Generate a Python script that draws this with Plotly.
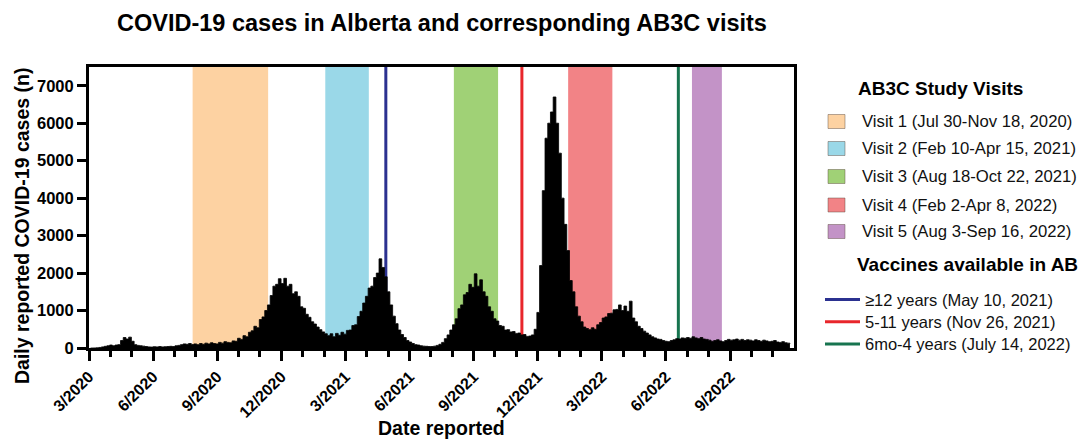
import plotly.graph_objects as go
import pandas as pd

# ---------------- data ----------------
# Daily reported COVID-19 cases in Alberta, read every 4 days starting 2020-03-02
case_start = "2020-03-02"
case_step_days = 4
daily_cases = [
    0, 2, 5, 15, 30, 45, 60, 80,                       # Mar 2020
    60, 80, 90, 200, 280, 240, 290, 180, 90,           # Apr 2020
    70, 60, 50, 40, 30, 25, 35, 30, 40, 30, 35, 40, 45, 40,   # May-Jun 2020
    60, 70, 90, 110, 100, 120, 95,                     # Jul 2020
    110, 90, 120, 100, 130, 110, 140, 120, 110, 150, 130, 170, 150, 140,
    190, 180, 260, 230, 330, 300, 420, 460, 580, 540, 760, 830, 1000, 1150,
    1400, 1650, 1700, 1850, 1720, 1860, 1650, 1700, 1450, 1500, 1380, 1100,
    1060, 900, 820, 700, 640, 560, 490, 430, 380,
    330, 380, 300, 390, 340, 420, 370, 470, 480, 600, 620, 840, 980, 1200,
    1380, 1600, 1650, 1880, 2000, 2380, 2150, 1900, 1500, 1150, 850, 650,
    480, 360, 280, 200, 160, 120, 90, 80, 60, 50, 45, 40, 40, 50, 70, 100,
    150, 250, 350, 480, 620, 780, 1050, 1150, 1420, 1480, 1700, 1620, 1980,
    1650, 1820, 1500, 1380, 1100, 980, 780, 720, 600, 580, 480, 490, 430,
    440, 390, 400, 350, 360, 310, 320, 350, 500, 950, 2200, 4200, 5600, 6000,
    6300, 6700, 6000, 5200, 4000, 3300, 2600, 1800, 1500, 1100, 850, 700,
    560, 520, 490, 540, 500, 620, 680, 800, 830, 920, 930, 1020, 1030, 1150,
    1000, 1120, 980, 1250, 800, 700, 580, 520, 450, 400, 350, 300, 270, 240,
    230, 200, 180, 170, 200, 220, 250, 240, 270, 260, 280, 260, 300, 270,
    250, 280, 240, 230, 210, 180, 200, 220, 190, 170, 200, 230, 210, 220,
    240, 210, 230, 200, 220, 210, 190, 220, 200, 180, 210, 190, 170, 180,
    200, 160, 150, 170, 140, 130, 110,
]

visit_labels = [
    "Visit 1 (Jul 30-Nov 18, 2020)",
    "Visit 2 (Feb 10-Apr 15, 2021)",
    "Visit 3 (Aug 18-Oct 22, 2021)",
    "Visit 4 (Feb 2-Apr 8, 2022)",
    "Visit 5 (Aug 3-Sep 16, 2022)",
]
visit_starts = ["2020-07-30", "2021-02-10", "2021-08-18", "2022-02-02", "2022-08-03"]
visit_ends = ["2020-11-18", "2021-04-15", "2021-10-22", "2022-04-08", "2022-09-16"]
visit_colors = ["#FDD2A2", "#9AD8E8", "#A0D176", "#F28386", "#C393C7"]

vaccine_labels = [
    "≥12 years (May 10, 2021)",
    "5-11 years (Nov 26, 2021)",
    "6mo-4 years (July 14, 2022)",
]
vaccine_dates = ["2021-05-10", "2021-11-26", "2022-07-14"]
vaccine_colors = ["#2B3190", "#E8262B", "#17744F"]

tick_labels = ["3/2020", "6/2020", "9/2020", "12/2020", "3/2021", "6/2021",
               "9/2021", "12/2021", "3/2022", "6/2022", "9/2022"]
y_ticks = [0, 1000, 2000, 3000, 4000, 5000, 6000, 7000]

# ---------------- layout geometry ----------------
W, H = 1081, 440
L, R, T, B = 89, 794, 67, 348          # plot area in pixels
FONT = "Arial, Liberation Sans, sans-serif"

def px_x(px):
    return (px - L) / (R - L)

def px_y(py):
    return (B - py) / (B - T)

case_dates = pd.date_range(case_start, periods=len(daily_cases),
                           freq=f"{case_step_days}D")

# tick placement as in the reference (equally spaced)
t0 = pd.Timestamp("2020-02-28 16:00")
step = pd.Timedelta(days=94.23)
tick_vals = [(t0 + k * step).strftime("%Y-%m-%d %H:%M") for k in range(len(tick_labels))]
minor_vals = [(t0 + k * step / 3).strftime("%Y-%m-%d %H:%M")
              for k in range(3 * len(tick_labels) + 3) if k % 3]
x_end = "2022-12-31"

fig = go.Figure()
fig.add_trace(go.Scatter(
    x=case_dates, y=daily_cases, mode="lines",
    line=dict(color="black", width=0.8, shape="hv"),
    fill="tozeroy", fillcolor="black", showlegend=False, hoverinfo="x+y",
))

shapes = []
for s, e, c in zip(visit_starts, visit_ends, visit_colors):
    shapes.append(dict(type="rect", xref="x", yref="paper", x0=s, x1=e, y0=0, y1=1,
                       fillcolor=c, line=dict(width=0), layer="below"))
for d, c in zip(vaccine_dates, vaccine_colors):
    shapes.append(dict(type="line", xref="x", yref="paper", x0=d, x1=d, y0=0, y1=1,
                       line=dict(color=c, width=3), layer="below"))

annotations = []
# legend: visits
annotations.append(dict(text="<b>AB3C Study Visits</b>", xref="paper", yref="paper",
                        x=px_x(856), y=px_y(88), xanchor="left", yanchor="middle",
                        showarrow=False, font=dict(size=19, color="black", family=FONT)))
row_y = [121.5, 148.5, 176.5, 205, 231.5]
for lab, c, ry in zip(visit_labels, visit_colors, row_y):
    shapes.append(dict(type="rect", xref="paper", yref="paper",
                       x0=px_x(828), x1=px_x(845), y0=px_y(ry + 7), y1=px_y(ry - 7),
                       fillcolor=c, line=dict(color="rgba(90,70,60,0.45)", width=1)))
    annotations.append(dict(text=lab, xref="paper", yref="paper",
                            x=px_x(860), y=px_y(ry), xanchor="left", yanchor="middle",
                            showarrow=False, font=dict(size=16.7, color="#111", family=FONT)))
# legend: vaccines
annotations.append(dict(text="<b>Vaccines available in AB</b>", xref="paper", yref="paper",
                        x=px_x(855), y=px_y(264), xanchor="left", yanchor="middle",
                        showarrow=False, font=dict(size=19, color="black", family=FONT)))
vac_y = [299.5, 321.7, 344]
for lab, c, ry in zip(vaccine_labels, vaccine_colors, vac_y):
    shapes.append(dict(type="line", xref="paper", yref="paper",
                       x0=px_x(825), x1=px_x(860), y0=px_y(ry), y1=px_y(ry),
                       line=dict(color=c, width=3)))
    annotations.append(dict(text=lab, xref="paper", yref="paper",
                            x=px_x(863), y=px_y(ry), xanchor="left", yanchor="middle",
                            showarrow=False, font=dict(size=16.5, color="#111", family=FONT)))
# axis titles
annotations.append(dict(text="<b>Date reported</b>", xref="paper", yref="paper",
                        x=px_x(441.5), y=px_y(428), xanchor="center", yanchor="middle",
                        showarrow=False, font=dict(size=19.5, color="black", family=FONT)))
annotations.append(dict(text="<b>Daily reported COVID-19 cases (n)</b>", xref="paper",
                        yref="paper", x=px_x(22), y=px_y(226), xanchor="center",
                        yanchor="middle", textangle=-90, showarrow=False,
                        font=dict(size=19.5, color="black", family=FONT)))

fig.update_layout(
    width=W, height=H,
    margin=dict(l=L, r=W - R, t=T, b=H - B, pad=0),
    paper_bgcolor="white", plot_bgcolor="white",
    font=dict(family=FONT, color="black"),
    title=dict(text="<b>COVID-19 cases in Alberta and corresponding AB3C visits</b>",
               x=px_x(442), xref="paper", xanchor="center",
               y=1 - 23 / H, yref="container", yanchor="middle",
               font=dict(size=23.5, color="black", family=FONT)),
    shapes=shapes, annotations=annotations, showlegend=False,
    xaxis=dict(
        type="date", range=[t0.strftime("%Y-%m-%d %H:%M"), x_end],
        tickmode="array", tickvals=tick_vals, ticktext=tick_labels,
        tickangle=-45, ticks="outside", ticklen=10, tickwidth=2.5, tickcolor="black",
        tickfont=dict(size=16, family=FONT, color="black", weight="bold"),
        minor=dict(tickmode="array", tickvals=minor_vals, ticks="outside",
                   ticklen=6, tickwidth=2.5, tickcolor="black", showgrid=False),
        showline=True, linecolor="black", linewidth=3, mirror=True,
        showgrid=False, zeroline=False,
    ),
    yaxis=dict(
        range=[0, 7500], tickmode="array", tickvals=y_ticks,
        ticks="outside", ticklen=9, tickwidth=2.5, tickcolor="black",
        tickfont=dict(size=16.5, family=FONT, color="black", weight="bold"),
        showline=True, linecolor="black", linewidth=3, mirror=True,
        showgrid=False, zeroline=False,
    ),
)

fig.write_html("out.html", config={"displayModeBar": False},
               post_script="document.body.style.margin='0';"
                           "document.body.style.overflow='hidden';")
